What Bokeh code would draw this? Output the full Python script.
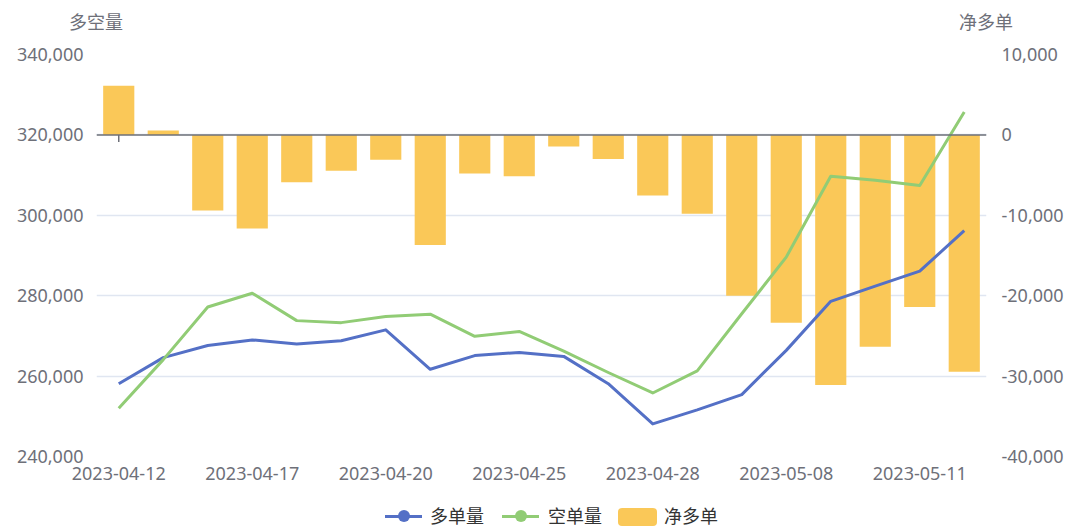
from bokeh.plotting import figure
from bokeh.layouts import column
from bokeh.models import (Range1d, LinearAxis, FixedTicker, NumeralTickFormatter, Span,
                          ColumnDataSource, Div)
from bokeh.embed import file_html
from bokeh.resources import INLINE

# ---------------- data ----------------
dates = ["2023-04-12", "2023-04-13", "2023-04-14", "2023-04-17", "2023-04-18",
         "2023-04-19", "2023-04-20", "2023-04-21", "2023-04-24", "2023-04-25",
         "2023-04-26", "2023-04-27", "2023-04-28", "2023-05-04", "2023-05-05",
         "2023-05-08", "2023-05-09", "2023-05-10", "2023-05-11", "2023-05-12"]
long_vol = [258100, 264600, 267600, 269000, 268000, 268800, 271500, 261700, 265100, 265900,
            264900, 258100, 248100, 251600, 255400, 266400, 278600, 282400, 286100, 296200]
short_vol = [252000, 264100, 277200, 280600, 273800, 273300, 274800, 275400, 269900, 271100,
             266200, 260900, 255800, 261300, 275500, 289600, 309700, 308700, 307400, 325700]
net_long = [6100, 550, -9400, -11650, -5900, -4450, -3100, -13700, -4800, -5150,
            -1450, -3000, -7550, -9800, -20000, -23350, -31100, -26350, -21400, -29450]
left_ticks = [240000, 260000, 280000, 300000, 320000, 340000]
right_ticks = [-40000, -30000, -20000, -10000, 0, 10000]
label_idx = [0, 3, 6, 9, 12, 15, 18]
series_names = ["多单量", "空单量", "净多单"]
left_name = "多空量"
right_name = "净多单"

BLUE, GREEN, YELLOW = "#5470C6", "#91CC75", "#FAC858"
AXC = "#6E7079"
GRID = "#E0E6F1"
NUM_FONT = "Noto Sans"
CJK_FONT = "Noto Sans CJK SC"
W = 1068
HEAD_H, MAIN_H, FOOT_H = 40, 456, 30
TICK_LEN = 870  # length of the small category ticks below the zero line, in net units

# ---------------- header: axis names ----------------
txt_css = ("position:absolute;width:80px;text-align:center;font-family:'{f}';"
           "font-size:18px;line-height:26px;color:{c};white-space:nowrap;")
head_html = (
    f"<div style='position:relative;width:{W}px;height:{HEAD_H}px;'>"
    f"<div style=\"{txt_css.format(f=CJK_FONT, c=AXC)}left:56px;top:8px;\">{left_name}</div>"
    f"<div style=\"{txt_css.format(f=CJK_FONT, c=AXC)}left:946px;top:8px;\">{right_name}</div>"
    "</div>")
head = Div(text=head_html, width=W, height=HEAD_H, margin=0)

# ---------------- main chart ----------------
idx = list(range(len(dates)))
src = ColumnDataSource(dict(x=idx, long=long_vol, short=short_vol, net=net_long))

p = figure(width=W, height=MAIN_H, output_backend="svg", toolbar_location=None,
           x_range=Range1d(-0.5, len(dates) - 0.5),
           y_range=Range1d(left_ticks[0], left_ticks[-1]),
           min_border_left=96, min_border_right=82, min_border_top=14, min_border_bottom=40)
p.outline_line_color = None
p.background_fill_color = "white"
p.border_fill_color = "white"
p.extra_y_ranges = {"net": Range1d(right_ticks[0], right_ticks[-1])}


def style_axis(ax, standoff):
    ax.axis_line_color = None
    ax.major_tick_line_color = None
    ax.minor_tick_line_color = None
    ax.major_tick_out = 0
    ax.major_tick_in = 0
    ax.minor_tick_out = 0
    ax.minor_tick_in = 0
    ax.major_label_standoff = standoff
    ax.major_label_text_font = NUM_FONT
    ax.major_label_text_font_size = "18px"
    ax.major_label_text_color = AXC


ly = p.yaxis[0]
ly.ticker = FixedTicker(ticks=left_ticks)
ly.formatter = NumeralTickFormatter(format="0,0")
style_axis(ly, 13)

p.ygrid.ticker = FixedTicker(ticks=left_ticks)
p.ygrid.grid_line_color = GRID
p.ygrid.grid_line_width = 1.5
p.xgrid.grid_line_color = None

ry = LinearAxis(y_range_name="net", ticker=FixedTicker(ticks=right_ticks),
                formatter=NumeralTickFormatter(format="0,0"))
style_axis(ry, 15)
p.add_layout(ry, "right")

xa = p.xaxis[0]
xa.ticker = FixedTicker(ticks=label_idx)
xa.major_label_overrides = {i: dates[i] for i in label_idx}
style_axis(xa, 10)

# small category ticks hanging from the zero line (mostly hidden behind bars)
p.segment(x0=label_idx, x1=label_idx, y0=0, y1=-TICK_LEN, y_range_name="net",
          line_color=AXC, line_width=1.5)

p.vbar(x="x", top="net", bottom=0, width=0.7, y_range_name="net",
       fill_color=YELLOW, line_color=None, source=src)
p.line("x", "long", line_color=BLUE, line_width=3, line_join="round", source=src)
p.line("x", "short", line_color=GREEN, line_width=3, line_join="round", source=src)

p.add_layout(Span(location=0, dimension="width", y_range_name="net",
                  line_color=AXC, line_width=1.5))


# ---------------- footer: legend ----------------
def line_icon(left, color):
    return (f"<div style='position:absolute;left:{left}px;top:18.5px;width:37px;height:3px;"
            f"background:{color};'></div>"
            f"<div style='position:absolute;left:{left + 12.5}px;top:14px;width:12px;height:12px;"
            f"border-radius:50%;background:{color};'></div>")


def legend_text(left, text):
    return (f"<div style=\"position:absolute;left:{left}px;top:5.5px;font-family:'{CJK_FONT}';"
            f"font-size:18px;line-height:26px;color:#333333;white-space:nowrap;\">{text}</div>")


foot_html = (
    f"<div style='position:relative;width:{W}px;height:{FOOT_H}px;'>"
    + line_icon(385, BLUE) + legend_text(430, series_names[0])
    + line_icon(502, GREEN) + legend_text(548, series_names[1])
    + f"<div style='position:absolute;left:618px;top:12px;width:39px;height:18px;"
      f"border-radius:4px;background:{YELLOW};'></div>"
    + legend_text(664, series_names[2])
    + "</div>")
foot = Div(text=foot_html, width=W, height=FOOT_H, margin=0)

layout = column(head, p, foot, spacing=0)
open("out.html", "w").write(file_html(layout, INLINE))
